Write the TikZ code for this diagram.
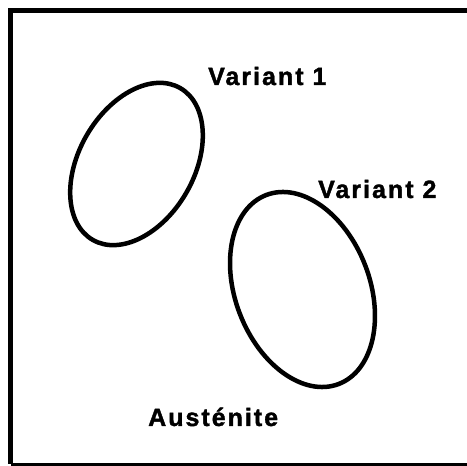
\documentclass[tikz,border=0pt]{standalone}
\usepackage{fontspec}
\setmainfont{Liberation Sans}
\newfontfamily\lblfont[LetterSpace=8,BoldFeatures={FakeBold=1.5}]{Liberation Sans}
\begin{document}
\begin{tikzpicture}[x=1pt,y=1pt,
  lbl/.style={inner sep=0pt,anchor=base west,font=\lblfont\bfseries\fontsize{25}{28}\selectfont},
  grain/.style={line width=4.5pt}]
\useasboundingbox (0,0) rectangle (467,466);
\coordinate (tr) at (467,455);
\coordinate (tl) at (10.5,455);
\coordinate (bl) at (10.5,1.5);
\coordinate (br) at (467,1.5);
\draw[line width=5pt] (tr) -- (tl) -- (bl);
\draw[line width=3.5pt] (bl) -- (br);
\draw[grain] (136.5,302) ellipse[x radius=57.5, y radius=87.6, rotate=-30];
\draw[grain] (302.5,176.5) ellipse[x radius=67.2, y radius=101.2, rotate=21];
\node[lbl] (v1) at (208,381) {Variant 1};
\node[lbl] (v2) at (318,268) {Variant 2};
\node[lbl] (aus) at (148,40) {Austénite};
\end{tikzpicture}
\end{document}
